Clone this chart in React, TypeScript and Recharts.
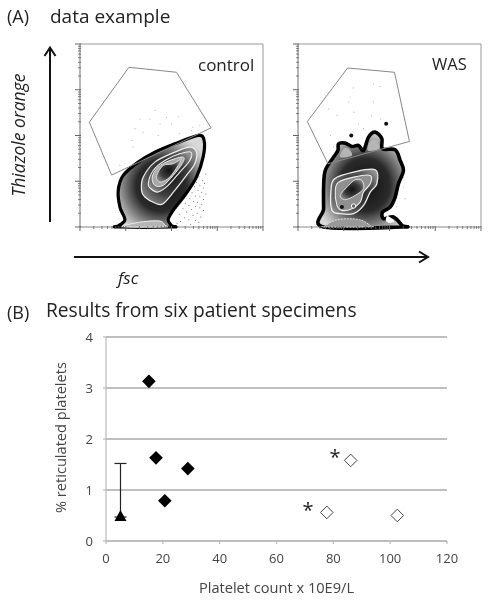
import React from "react";
import { ScatterChart, Scatter, XAxis, YAxis, ReferenceLine, CartesianGrid, ErrorBar } from "recharts";

type P = [number, number];
// ---------- Panel A: values are in decades on both log axes (0..4)
const decadeTicks = [0, 0.3, 0.48, 0.6, 0.7, 0.78, 0.85, 0.9, 0.95, 1, 1.3, 1.48, 1.6, 1.7, 1.78, 1.85, 1.9, 1.95, 2, 2.3, 2.48, 2.6, 2.7, 2.78, 2.85, 2.9, 2.95, 3, 3.3, 3.48, 3.6, 3.7, 3.78, 3.85, 3.9, 3.95, 4];

const controlGate: P[] = [[1.069, 3.491], [2.109, 3.382], [2.865, 2.167], [0.691, 1.135], [0.204, 2.291]];
const controlOuter: P[] = [[0.836, 0.0], [0.85, 0.03], [0.982, 0.16], [0.873, 0.436], [0.836, 0.8], [0.945, 1.127], [1.273, 1.418], [1.636, 1.636], [2.073, 1.818], [2.582, 2.0], [2.713, 1.891], [2.691, 1.527], [2.545, 1.091], [2.291, 0.691], [2.036, 0.364], [1.927, 0.16], [2.0, 0.03], [2.015, 0.0]];
const controlBase: P[] = [[0.982, 0.0], [1.0, 0.04], [1.382, 0.116], [1.745, 0.131], [1.855, 0.04], [1.855, 0.0]];
const controlC1: P[] = [[1.345, 0.8], [1.382, 1.091], [1.636, 1.418], [2.073, 1.636], [2.4, 1.745], [2.545, 1.636], [2.509, 1.382], [2.327, 1.127], [2.073, 0.8], [1.818, 0.509], [1.636, 0.524], [1.418, 0.655]];
const controlC2: P[] = [[1.491, 0.945], [1.6, 1.236], [1.855, 1.455], [2.182, 1.6], [2.422, 1.636], [2.4, 1.455], [2.182, 1.2], [1.927, 0.909], [1.709, 0.764], [1.549, 0.836]];
const controlC3: P[] = [[1.578, 1.091], [1.709, 1.309], [1.964, 1.455], [2.255, 1.527], [2.233, 1.382], [2.036, 1.127], [1.818, 0.909], [1.636, 0.909]];
const controlC4: P[] = [[1.673, 1.127], [1.818, 1.345], [2.036, 1.382], [2.218, 1.491], [2.145, 1.345], [1.964, 1.091], [1.782, 0.982], [1.695, 1.018]];
const controlDots: P[] = [[1.64, 2.55], [1.53, 2.36], [1.89, 2.4], [2.15, 2.41], [1.31, 2.36], [1.2, 2.15], [1.75, 2.25], [2.0, 2.25], [2.62, 2.22], [2.44, 2.11], [1.13, 1.89], [1.16, 1.75], [1.38, 2.07], [1.71, 2.0], [2.18, 2.04], [0.98, 1.38], [0.87, 1.35], [2.47, 2.18]];
const controlCloud: P[] = [[2.75, 1.16], [2.6, 1.1], [2.68, 1.02], [2.55, 0.98], [2.72, 0.95], [2.62, 0.9], [2.5, 0.88], [2.7, 0.85], [2.58, 0.8], [2.66, 0.76], [2.45, 0.75], [2.75, 0.72], [2.52, 0.68], [2.62, 0.66], [2.4, 0.62], [2.7, 0.6], [2.48, 0.56], [2.57, 0.54], [2.3, 0.52], [2.66, 0.5], [2.38, 0.47], [2.52, 0.45], [2.62, 0.42], [2.25, 0.4], [2.44, 0.38], [2.7, 0.36], [2.33, 0.33], [2.56, 0.3], [2.18, 0.28], [2.47, 0.25], [2.64, 0.22], [2.28, 0.2], [2.38, 0.16], [2.52, 0.14], [2.2, 0.12], [2.12, 0.08], [2.42, 0.06], [2.6, 0.1]];

const wasGate: P[] = [[1.084, 3.476], [2.109, 3.382], [2.436, 1.869], [0.655, 1.382], [0.204, 2.305]];
const wasOuter: P[] = [[0.56, 0.0], [0.56, 0.4], [0.56, 0.873], [0.596, 1.236], [0.778, 1.527], [0.873, 1.673], [0.887, 1.818], [1.033, 1.833], [1.178, 1.76], [1.324, 1.782], [1.433, 1.673], [1.542, 1.964], [1.687, 2.073], [1.833, 1.927], [1.847, 1.709], [2.124, 1.687], [2.233, 1.455], [2.305, 1.236], [2.196, 0.945], [2.124, 0.655], [2.015, 0.436], [1.847, 0.327], [1.869, 0.182], [2.087, 0.218], [2.269, 0.036], [2.269, 0.0]];
const wasBumpA: P[] = [[0.924, 1.527], [0.996, 1.709], [1.105, 1.709], [1.178, 1.564]];
const wasBumpB: P[] = [[1.527, 1.673], [1.578, 1.876], [1.724, 1.891], [1.775, 1.709]];
const wasHole: P[] = [[1.95, 0.24], [2.03, 0.2], [2.1, 0.12], [1.99, 0.09], [1.92, 0.14]];
const wasBase: P[] = [[0.596, 0.0], [0.6, 0.03], [0.815, 0.145], [1.105, 0.182], [1.396, 0.145], [1.578, 0.03], [1.578, 0.0]];
const wasC1: P[] = [[0.742, 0.364], [0.72, 0.8], [0.8, 1.055], [1.215, 1.2], [1.687, 1.251], [1.724, 0.945], [1.578, 0.764], [1.433, 0.473], [1.215, 0.291], [0.924, 0.291]];
const wasC2: P[] = [[0.851, 0.473], [0.815, 0.8], [0.887, 0.982], [1.215, 1.091], [1.578, 1.127], [1.578, 0.945], [1.433, 0.764], [1.36, 0.545], [1.178, 0.4], [0.96, 0.364]];
const wasC3: P[] = [[0.924, 0.691], [1.105, 0.909], [1.251, 1.033], [1.396, 1.018], [1.433, 0.836], [1.251, 0.691], [1.033, 0.596]];
const wasDots: P[] = [[1.65, 3.13], [1.8, 3.07], [1.21, 3.04], [1.14, 2.84], [1.11, 2.73], [0.67, 2.58], [0.85, 2.44], [1.22, 2.51], [1.65, 2.73], [1.61, 2.44], [1.32, 2.25], [1.43, 2.15], [0.71, 2.0], [1.8, 2.36], [0.78, 1.75], [2.31, 1.09], [2.31, 0.87], [2.34, 0.62], [2.16, 0.44]];
const wasBlobs: P[] = [[1.164, 2.0], [1.927, 2.255], [0.96, 0.436]];
const wasRing: P[] = [[1.215, 0.458]];

// ---------- Panel B
const xTicksB = [0, 20, 40, 60, 80, 100, 120];
const yTicksB = [0, 1, 2, 3, 4];
const patientsFilled = [{ x: 15.1, y: 3.13 }, { x: 17.6, y: 1.63 }, { x: 28.8, y: 1.42 }, { x: 20.7, y: 0.79 }];
const patientsOpen = [{ x: 86.1, y: 1.58 }, { x: 77.7, y: 0.56 }, { x: 102.5, y: 0.5 }];
const patientTriangle = [{ x: 5.1, y: 0.47, err: [0, 1.05] }];
const starMarks = [{ x: 80.6, y: 1.69 }, { x: 71.1, y: 0.65 }];

const FONT = "'Open Sans', sans-serif";
const toPts = (a: P[]) => a.map(([x, y]) => ({ x, y }));
const NoDot = () => <g />;
const dot = (r: number, fill: string) => (p: any) => <circle cx={p.cx} cy={p.cy} r={r} fill={fill} />;

// closed Catmull-Rom curve, handed to the library as a curve factory
const smoothClosed = (ctx: any) => {
  let pts: number[][] = [];
  return {
    areaStart() {},
    areaEnd() {},
    lineStart() { pts = []; },
    point(x: number, y: number) { pts.push([x, y]); },
    lineEnd() {
      const n = pts.length;
      if (!n) return;
      ctx.moveTo(pts[0][0], pts[0][1]);
      for (let i = 0; i < n; i++) {
        const a = pts[(i - 1 + n) % n], b = pts[i], c = pts[(i + 1) % n], d = pts[(i + 2) % n];
        ctx.bezierCurveTo(b[0] + (c[0] - a[0]) / 6, b[1] + (c[1] - a[1]) / 6, c[0] - (d[0] - b[0]) / 6, c[1] - (d[1] - b[1]) / 6, c[0], c[1]);
      }
      ctx.closePath();
    },
  };
};

function blob(key: string, pts: P[], fill: string, stroke: string, w: number, type: any = smoothClosed, dash?: string) {
  return (
    <Scatter key={key} data={toPts(pts)} dataKey="y" isAnimationActive={false} shape={NoDot}
      line={{ fill, stroke, strokeWidth: w, strokeDasharray: dash, strokeLinejoin: "round" }} lineJointType={type} />
  );
}

const LogTickX = (p: any) => {
  const v = p.payload.value;
  const major = Number.isInteger(v);
  return <line x1={p.x} x2={p.x} y1={p.y - 1} y2={p.y + (major ? 4 : 2)} stroke="#666" strokeWidth={major ? 1 : 0.8} />;
};
const LogTickY = (p: any) => {
  const v = p.payload.value;
  const major = Number.isInteger(v);
  return <line y1={p.y} y2={p.y} x1={p.x + 1} x2={p.x - (major ? 5 : 2)} stroke="#666" strokeWidth={major ? 1 : 0.8} />;
};

function Frame({ id, left, children }: any) {
  return (
    <div style={{ position: "absolute", left, top: 34 }}>
      <ScatterChart width={200} height={202} margin={{ top: 10, right: 7, bottom: 0, left: 0 }}>
        <defs>
          <radialGradient id={id + "a"} cx="52%" cy="55%" r="58%">
            <stop offset="0%" stopColor="#111" />
            <stop offset="48%" stopColor="#2a2a2a" />
            <stop offset="88%" stopColor="#b8b8b8" />
            <stop offset="100%" stopColor="#d8d8d8" />
          </radialGradient>
          <radialGradient id={id + "b"} cx="50%" cy="50%" r="60%">
            <stop offset="0%" stopColor="#111" />
            <stop offset="55%" stopColor="#3c3c3c" />
            <stop offset="100%" stopColor="#909090" />
          </radialGradient>
        </defs>
        <XAxis type="number" dataKey="x" domain={[0, 4]} ticks={decadeTicks} interval={0} height={9} stroke="#888" strokeWidth={1.2}
          tickLine={false} tickSize={0} tickMargin={0} tick={LogTickX} />
        <YAxis type="number" dataKey="y" domain={[0, 4]} ticks={decadeTicks} interval={0} width={10} stroke="#888" strokeWidth={1.2}
          tickLine={false} tickSize={0} tickMargin={0} tick={LogTickY} />
        <ReferenceLine y={4} stroke="#999" strokeWidth={1} />
        <ReferenceLine x={4} stroke="#999" strokeWidth={1} />
        {children}
      </ScatterChart>
    </div>
  );
}

const arrowStyle = { fill: "none", stroke: "#111", strokeWidth: 2 };

const texts: { t: string; x: number; y: number; s: number; i?: boolean }[] = [
  { t: "(A)", x: 7, y: 16, s: 18 },
  { t: "data example", x: 50, y: 16, s: 19 },
  { t: "control", x: 198, y: 64, s: 17 },
  { t: "WAS", x: 432, y: 64, s: 16.5 },
  { t: "fsc", x: 118, y: 277, s: 17, i: true },
  { t: "(B)", x: 7, y: 312, s: 18 },
  { t: "Results from six patient specimens", x: 46, y: 310, s: 19.2 },
];

export default function App() {
  return (
    <div style={{ position: "absolute", left: 0, top: 0, width: 489, height: 601, background: "#fff", overflow: "hidden", filter: "blur(0.35px)", fontFamily: FONT, color: "#222" }}>
      <Frame id="ctl" left={70}>
        {blob("ctlOuter", controlOuter, "url(#ctla)", "#000", 3.2)}
        {blob("ctlBase", controlBase, "#b5b5b5", "#eee", 1)}
        {blob("ctlC1", controlC1, "url(#ctlb)", "#eee", 1.2)}
        {blob("ctlC2", controlC2, "url(#ctlb)", "#eee", 1.1)}
        {blob("ctlC3", controlC3, "#a8a8a8", "#eee", 1)}
        {blob("ctlC4", controlC4, "url(#ctlb)", "#ddd", 1)}
        <Scatter data={toPts(controlDots)} dataKey="y" isAnimationActive={false} shape={dot(0.55, "#aaa")} />
        <Scatter data={toPts(controlCloud)} dataKey="y" isAnimationActive={false} shape={dot(0.5, "#555")} />
        {blob("ctlGate", controlGate, "none", "#888", 1, "linearClosed")}
      </Frame>
      <Frame id="was" left={288}>
        {blob("wasOuter", wasOuter, "url(#wasa)", "#000", 3.6)}
        {blob("wasBumpA", wasBumpA, "#b5b5b5", "none", 0)}
        {blob("wasBumpB", wasBumpB, "#b5b5b5", "none", 0)}
        {blob("wasHole", wasHole, "#fff", "none", 0)}
        {blob("wasBase", wasBase, "#999", "#ddd", 1, smoothClosed, "2 1")}
        {blob("wasC1", wasC1, "url(#wasb)", "#eee", 1.3)}
        {blob("wasC2", wasC2, "#909090", "#eee", 1.1)}
        {blob("wasC3", wasC3, "url(#wasb)", "#ddd", 1)}
        <Scatter data={toPts(wasDots)} dataKey="y" isAnimationActive={false} shape={dot(0.55, "#aaa")} />
        <Scatter data={toPts(wasBlobs)} dataKey="y" isAnimationActive={false} shape={dot(2, "#111")} />
        <Scatter data={toPts(wasRing)} dataKey="y" isAnimationActive={false} shape={(p: any) => <circle cx={p.cx} cy={p.cy} r={2.2} fill="#666" stroke="#fff" strokeWidth={1} />} />
        {blob("wasGate", wasGate, "none", "#888", 1, "linearClosed")}
      </Frame>

      <div style={{ position: "absolute", left: 0, top: 320 }}>
        <ScatterChart width={489} height={281} margin={{ top: 17, right: 42, bottom: 0, left: 0 }}>
          <CartesianGrid vertical={false} stroke="#aaa" strokeWidth={1.3} />
          <XAxis type="number" dataKey="x" domain={[0, 120]} ticks={xTicksB} interval={0} height={60} stroke="#bbb" strokeWidth={1.2}
            tickSize={3} tickMargin={10} tick={{ fontSize: 13, fill: "#444", fontFamily: FONT }}
            label={{ value: "Platelet count x 10E9/L", position: "insideBottom", offset: 8, fontSize: 14.6, fill: "#444", fontFamily: FONT }} />
          <YAxis type="number" dataKey="y" domain={[0, 4]} ticks={yTicksB} interval={0} width={106} stroke="#bbb" strokeWidth={1.2}
            tickSize={3} tickMargin={10} tick={{ fontSize: 13, fill: "#444", fontFamily: FONT }}
            label={{ value: "% reticulated platelets", angle: -90, position: "insideLeft", offset: 61, dy: 74, fontSize: 14.6, fill: "#444", fontFamily: FONT }} />
          <Scatter data={patientTriangle} dataKey="y" isAnimationActive={false}
            shape={(p: any) => <path d={`M${p.cx} ${p.cy - 7}L${p.cx + 6} ${p.cy + 4}L${p.cx - 6} ${p.cy + 4}Z`} fill="#000" />}>
            <ErrorBar dataKey="err" direction="y" width={6} stroke="#222" strokeWidth={1.2} />
          </Scatter>
          <Scatter data={patientsFilled} dataKey="y" isAnimationActive={false}
            shape={(p: any) => <path d={`M${p.cx} ${p.cy - 6.8}L${p.cx + 6.8} ${p.cy}L${p.cx} ${p.cy + 6.8}L${p.cx - 6.8} ${p.cy}Z`} fill="#000" />} />
          <Scatter data={patientsOpen} dataKey="y" isAnimationActive={false}
            shape={(p: any) => <path d={`M${p.cx} ${p.cy - 6.3}L${p.cx + 6.3} ${p.cy}L${p.cx} ${p.cy + 6.3}L${p.cx - 6.3} ${p.cy}Z`} fill="#fff" stroke="#444" strokeWidth={1} />} />
          <Scatter data={starMarks} dataKey="y" isAnimationActive={false}
            shape={(p: any) => <text x={p.cx} y={p.cy + 9} textAnchor="middle" fontSize={20} fill="#222" fontFamily={FONT}>*</text>} />
        </ScatterChart>
      </div>

      <svg width={489} height={601} style={{ position: "absolute", left: 0, top: 0, pointerEvents: "none" }}>
        <line x1={50} y1={222} x2={50} y2={48} {...arrowStyle} />
        <path d="M44.5 56L50 47.5L55.5 56" {...arrowStyle} />
        <line x1={74} y1={257} x2={427} y2={257} {...arrowStyle} />
        <path d="M419 251.5L428 257L419 262.5" {...arrowStyle} />
        <text x={18} y={135} transform="rotate(-90 18 135)" textAnchor="middle" dominantBaseline="central" fontSize={17.5} fontStyle="italic" fill="#222" fontFamily={FONT}>Thiazole orange</text>
      </svg>

      {texts.map((d) => (
        <div key={d.t} style={{ position: "absolute", left: d.x, top: d.y, transform: "translateY(-50%)", fontSize: d.s, fontStyle: d.i ? "italic" : "normal", whiteSpace: "nowrap", lineHeight: 1 }}>{d.t}</div>
      ))}
    </div>
  );
}
